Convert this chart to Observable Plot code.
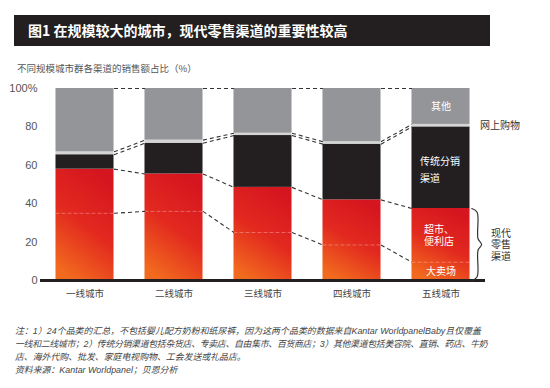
<!DOCTYPE html>
<html><head><meta charset="utf-8">
<script src="https://cdn.jsdelivr.net/npm/d3@7"></script>
<script src="https://cdn.jsdelivr.net/npm/@observablehq/plot@0.6"></script>
<style>
body{margin:0;background:#fff;width:550px;height:388px;position:relative;overflow:hidden;font-family:"Liberation Sans","Noto Sans CJK SC",sans-serif;}
#title{position:absolute;left:14px;top:15px;width:476px;height:31px;background:#231f20;color:#fff;font-weight:bold;font-size:14px;font-family:"Noto Sans CJK SC",sans-serif;line-height:31px;padding-left:14px;box-sizing:border-box;}
#sub{position:absolute;left:17px;top:61px;font-size:9.5px;color:#555;font-family:"Noto Sans CJK SC",sans-serif;}
#chart{position:absolute;left:0;top:78px;}
#note{position:absolute;left:15px;top:325px;font-size:8.9px;line-height:13px;color:#444;font-style:italic;font-family:"Liberation Sans","Noto Sans CJK SC",sans-serif;}
#note div{white-space:nowrap;}
#note .j{width:466px;text-align:justify;text-align-last:justify;}
#note .l2{letter-spacing:-0.3px;}
</style></head>
<body>
<div id="title">图1 在规模较大的城市，现代零售渠道的重要性较高</div>
<div id="sub">不同规模城市群各渠道的销售额占比（%）</div>
<div id="chart"></div>
<div id="note">
<div class="j">注：1）24个品类的汇总，不包括婴儿配方奶粉和纸尿裤，因为这两个品类的数据来自Kantar WorldpanelBaby且仅覆盖</div>
<div class="j l2">一线和二线城市；2）传统分销渠道包括杂货店、专卖店、自由集市、百货商店；3）其他渠道包括美容院、直销、药店、牛奶</div>
<div>店、海外代购、批发、家庭电视购物、工会发送或礼品店。</div>
<div>资料来源：Kantar Worldpanel；贝恩分析</div>
</div>
<script>
const cities = ["一线城市", "二线城市", "三线城市", "四线城市", "五线城市"];
const hypermarket = [35, 36, 25, 18.5, 9.5];
const supermarket = [23, 19.5, 23.5, 23.5, 28];
const traditional = [7.5, 16, 27, 29, 42.5];
const online = [1.5, 1.6, 1.2, 1.3, 1.3];
const others = [33, 26.9, 23.3, 27.7, 18.7];
const yTicks = [0, 20, 40, 60, 80, 100];

const half = 0.326;
const rows = cities.map((c, i) => {
  const h = hypermarket[i], m = h + supermarket[i], t = m + traditional[i], o = t + online[i], a = o + others[i];
  return {i, c, h, m, t, o, a};
});
const links = [];
for (let i = 0; i < rows.length - 1; i++) {
  for (const k of ["a", "o", "t", "m", "h"]) {
    links.push({x1: i + half, x2: i + 1 - half, y1: rows[i][k], y2: rows[i + 1][k]});
  }
}
const last = rows[rows.length - 1];
const xr = last.i + half;
const mid = last.m / 2;
const bracePts = [
  {x: xr + 0.02, y: last.m}, {x: xr + 0.08, y: last.m - 2}, {x: xr + 0.09, y: mid + 3},
  {x: xr + 0.13, y: mid}, {x: xr + 0.09, y: mid - 3}, {x: xr + 0.08, y: 2}, {x: xr + 0.02, y: 0}
];

const plot = Plot.plot({
  width: 550, height: 227,
  marginLeft: 40, marginRight: 65, marginTop: 10, marginBottom: 25,
  style: {fontFamily: '"Liberation Sans","Noto Sans CJK SC",sans-serif', fontSize: "11px", background: "transparent"},
  x: {type: "linear", domain: [-0.5, 4.5], label: null},
  y: {domain: [0, 100], label: null},
  marks: [
    Plot.rect(rows, {x1: d => d.i - half, x2: d => d.i + half, y1: 0, y2: "m", fill: "url(#redGrad)"}),
    Plot.rect(rows, {x1: d => d.i - half, x2: d => d.i + half, y1: "m", y2: "t", fill: "#231f20"}),
    Plot.rect(rows, {x1: d => d.i - half, x2: d => d.i + half, y1: "t", y2: "o", fill: "#d4d4d4"}),
    Plot.rect(rows, {x1: d => d.i - half, x2: d => d.i + half, y1: "o", y2: "a", fill: "#939598"}),
    Plot.ruleY(rows, {y: "h", x1: d => d.i - half, x2: d => d.i + half, stroke: "#fff", strokeOpacity: 0.3, strokeDasharray: "4,2"}),
    Plot.link(links, {x1: "x1", y1: "y1", x2: "x2", y2: "y2", stroke: "#333", strokeWidth: 1.1, strokeDasharray: "4,3"}),
    Plot.ruleY([0], {stroke: "#231f20", strokeWidth: 3}),
    Plot.axisY(yTicks, {tickFormat: d => d === 100 ? "100%" : d, tickSize: 0, tickPadding: 3, fontSize: 11, color: "#555", label: null}),
    Plot.axisX(rows.map(d => d.i), {tickFormat: i => cities[i], tickSize: 0, tickPadding: 10, fontSize: 9.5, color: "#444", label: null}),
    Plot.text([last], {x: "i", y: d => (d.o + d.a) / 2, text: () => "其他", fill: "#fff", fontSize: 10}),
    Plot.text([last], {x: d => d.i - half, y: d => (d.m + d.t) / 2, text: () => "传统分销\n渠道", fill: "#fff", fontSize: 10, textAnchor: "start", dx: 8, lineHeight: 1.7}),
    Plot.text([last], {x: d => d.i - half, y: d => (d.h + d.m) / 2, text: () => "超市、\n便利店", fill: "#fff", fontSize: 10, textAnchor: "start", dx: 12, lineHeight: 1.2}),
    Plot.text([last], {x: "i", y: d => d.h / 2, text: () => "大卖场", fill: "#fff", fontSize: 10}),
    Plot.text([last], {x: d => d.i + half, y: d => (d.t + d.o) / 2, text: () => "网上购物", fill: "#333", fontSize: 10, textAnchor: "start", dx: 10}),
    Plot.text([last], {x: d => d.i + half, y: d => d.m / 2, text: () => "现代\n零售\n渠道", fill: "#333", fontSize: 10, textAnchor: "start", dx: 21, lineHeight: 1.15}),
    Plot.line(bracePts, {x: "x", y: "y", curve: "catmull-rom", stroke: "#333", strokeWidth: 1.2})
  ]
});
const svg = d3.select(plot);
const grad = svg.insert("defs", ":first-child").append("linearGradient")
  .attr("id", "redGrad").attr("x1", 0.7).attr("y1", 0).attr("x2", 0.3).attr("y2", 1);
grad.append("stop").attr("offset", 0).attr("stop-color", "#d5151f");
grad.append("stop").attr("offset", 0.5).attr("stop-color", "#e2291f");
grad.append("stop").attr("offset", 1).attr("stop-color", "#f26a1e");
document.getElementById("chart").appendChild(plot);
</script>
</body></html>
